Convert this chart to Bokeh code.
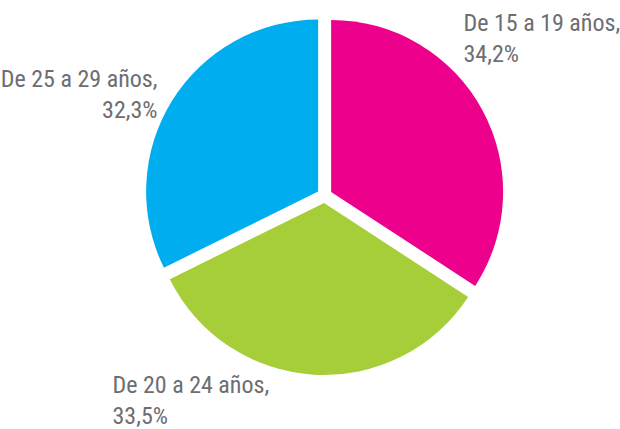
import math
from bokeh.plotting import figure
from bokeh.models import Range1d, ColumnDataSource
from bokeh.core.properties import value
from bokeh.embed import file_html
from bokeh.resources import INLINE

# ---- data ----
categories = ["De 15 a 19 años", "De 20 a 24 años", "De 25 a 29 años"]
shares = [34.2, 33.5, 32.3]
colors = ["#EC008C", "#A6CE39", "#00AEEF"]

# ---- layout ----
W, H = 620, 429
CX, CY = 324, 234          # pie centre (pixels, y up)
R = 172                    # radius
EXPLODE = 7.5              # slice offset
FONT = "Roboto Condensed"
FSIZE = "24px"
TEXT_COLOR = "#6D6E71"
LINE_GAP = 31
# label anchors (x, baseline of first line, align) per category
label_pos = [(463, 407, "left"), (112, 45, "left"), (157, 351, "right")]

total = sum(shares)
starts, ends, xs, ys = [], [], [], []
acc = 0.0
for s in shares:
    a0 = math.pi / 2 - acc / total * 2 * math.pi
    acc += s
    a1 = math.pi / 2 - acc / total * 2 * math.pi
    mid = (a0 + a1) / 2
    starts.append(a0)
    ends.append(a1)
    xs.append(CX + EXPLODE * math.cos(mid))
    ys.append(CY + EXPLODE * math.sin(mid))

src = ColumnDataSource(dict(x=xs, y=ys, start=starts, end=ends, color=colors))

p = figure(width=W, height=H, output_backend="svg", toolbar_location=None,
           x_range=Range1d(0, W), y_range=Range1d(0, H), min_border=0)
p.axis.visible = False
p.grid.visible = False
p.outline_line_color = None
p.background_fill_color = "white"
p.border_fill_color = "white"

p.wedge(x="x", y="y", radius=R, start_angle="start", end_angle="end",
        direction="clock", fill_color="color", line_color=None, source=src)

l1x, l1y, l2y, aligns, t1, t2 = [], [], [], [], [], []
for cat, s, (lx, ly, al) in zip(categories, shares, label_pos):
    t1.append(cat + ",")
    t2.append(f"{s:.1f}%".replace(".", ","))
    l1x.append(lx)
    l1y.append(ly)
    l2y.append(ly - LINE_GAP)
    aligns.append(al)

lsrc = ColumnDataSource(dict(x=l1x, y1=l1y, y2=l2y, t1=t1, t2=t2, align=aligns))
for ycol, tcol in (("y1", "t1"), ("y2", "t2")):
    p.text(x="x", y=ycol, text=tcol, source=lsrc, text_align="align",
           text_baseline="alphabetic", text_font=value(FONT),
           text_font_size=FSIZE, text_color=TEXT_COLOR)

open("out.html", "w").write(file_html(p, INLINE))
